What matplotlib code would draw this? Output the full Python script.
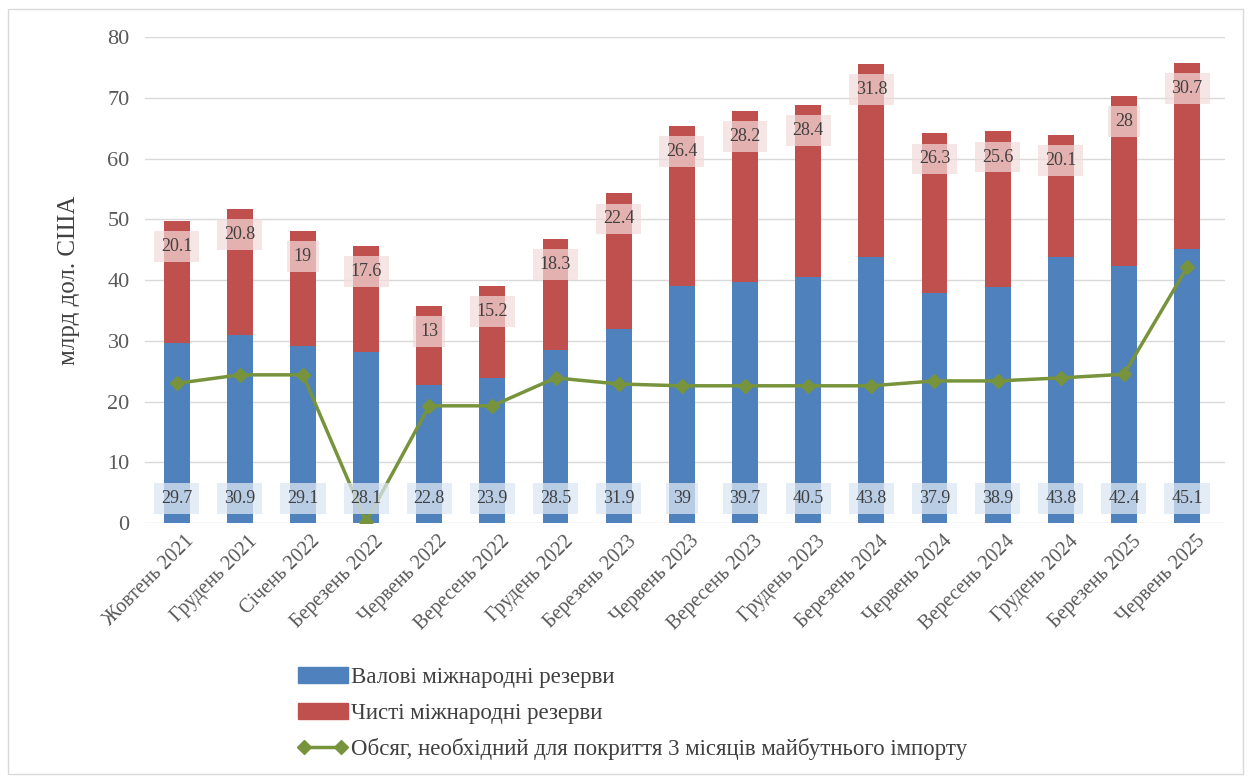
import matplotlib.pyplot as plt
import matplotlib.patches as patches
import matplotlib.transforms as mtransforms
from matplotlib.lines import Line2D
import numpy as np

plt.rcParams['font.family'] = ['Liberation Serif', 'DejaVu Serif']

# дані
months = ['Жовтень 2021', 'Грудень 2021', 'Січень 2022', 'Березень 2022',
          'Червень 2022', 'Вересень 2022', 'Грудень 2022', 'Березень 2023',
          'Червень 2023', 'Вересень 2023', 'Грудень 2023', 'Березень 2024',
          'Червень 2024', 'Вересень 2024', 'Грудень 2024', 'Березень 2025',
          'Червень 2025']
gross = [29.7, 30.9, 29.1, 28.1, 22.8, 23.9, 28.5, 31.9, 39, 39.7, 40.5,
         43.8, 37.9, 38.9, 43.8, 42.4, 45.1]
net = [20.1, 20.8, 19, 17.6, 13, 15.2, 18.3, 22.4, 26.4, 28.2, 28.4,
       31.8, 26.3, 25.6, 20.1, 28, 30.7]
import_cover = [23.0, 24.4, 24.4, 0.2, 19.3, 19.3, 23.9, 22.9, 22.6, 22.6,
                22.6, 22.6, 23.4, 23.4, 23.9, 24.5, 42.1]

BLUE = '#4F81BD'
RED = '#C0504D'
GREEN = '#77933C'

fig = plt.figure(figsize=(12.5, 7.76), dpi=100)
ax = fig.add_axes([0.116, 0.326, 0.864, 0.626])

# рамка навколо всього рисунка
fig.patches.append(patches.Rectangle((0.006, 0.003), 0.988, 0.985,
                                     transform=fig.transFigure, fill=False,
                                     edgecolor='#D9D9D9', linewidth=1))

x = np.arange(len(months))
ax.bar(x, gross, width=0.41, color=BLUE, zorder=2)
ax.bar(x, net, width=0.41, bottom=gross, color=RED, zorder=2)
ax.plot(x, import_cover, color=GREEN, linewidth=2.5, marker='D', markersize=7.5,
        zorder=4)

# підписи даних
for i in range(len(months)):
    ax.annotate(f'{gross[i]:g}', (x[i], 0), xytext=(0, 17.5), textcoords='offset points',
                ha='center', va='center', fontsize=13, color='#404040', zorder=5,
                bbox=dict(boxstyle='square,pad=0.38', facecolor='#DCE6F2', edgecolor='none', alpha=0.75))
    ax.annotate(f'{net[i]:g}', (x[i], gross[i] + net[i]), xytext=(0, -18.5),
                textcoords='offset points', ha='center', va='center', fontsize=13,
                color='#404040', zorder=5,
                bbox=dict(boxstyle='square,pad=0.38', facecolor='#F2DCDB', edgecolor='none', alpha=0.7))

ax.set_ylim(0, 80)
ax.set_xlim(-0.5, 16.6)
ax.set_yticks(range(0, 81, 10))
ax.yaxis.grid(True, color='#D9D9D9', linewidth=1, zorder=0)
ax.set_axisbelow(True)
for s in ax.spines.values():
    s.set_visible(False)
ax.tick_params(axis='x', length=0, labelsize=14.5, labelcolor='#595959')
ax.tick_params(axis='y', length=0, labelsize=16, labelcolor='#595959', pad=11)
ax.set_xticks(x)
ax.set_xticklabels(months, rotation=45, ha='right', va='top', rotation_mode='anchor')
shift = mtransforms.ScaledTranslation(8 / 100, -4 / 100, fig.dpi_scale_trans)
for lbl in ax.get_xticklabels():
    lbl.set_transform(lbl.get_transform() + shift)
ax.set_ylabel('млрд дол. США', fontsize=18, color='#404040', labelpad=20)

# легенда
handles = [patches.Patch(color=BLUE),
           patches.Patch(color=RED),
           Line2D([0, 1], [0, 0], color=GREEN, linewidth=2.5, marker='D', markersize=7.5)]
labels = ['Валові міжнародні резерви', 'Чисті міжнародні резерви',
          'Обсяг, необхідний для покриття 3 місяців майбутнього імпорту']
fig.legend(handles, labels, loc='upper left', bbox_to_anchor=(0.238, 0.140),
           frameon=False, fontsize=16.5, handlelength=2.2, handleheight=0.7,
           handletextpad=0.15, labelspacing=0.62, labelcolor='#404040',
           borderaxespad=0, borderpad=0, numpoints=2)

plt.savefig('out.png', dpi=100)
